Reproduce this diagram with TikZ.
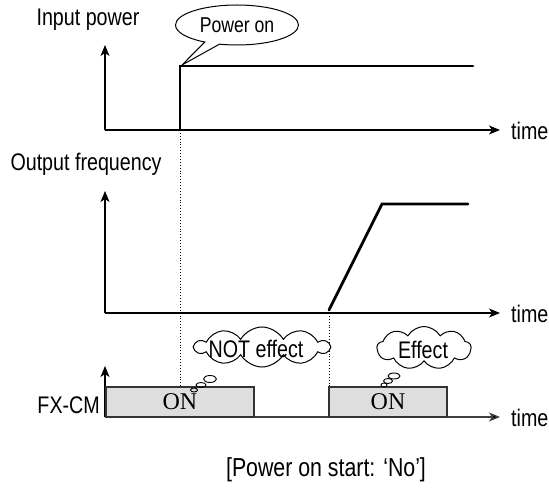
\documentclass[tikz,border=0pt]{standalone}
\usepackage{fontspec}
\setmainfont{Liberation Sans}[FakeStretch=0.82]
\newfontfamily\onfont{Liberation Serif}
\usetikzlibrary{arrows.meta,shapes.symbols,shapes.callouts,shapes.geometric}
\tikzset{
  axis/.style={line width=1.3pt,-{Stealth[length=11pt,width=9pt,inset=3pt]}},
  sig/.style={line width=2.8pt,line cap=round,line join=miter},
  lbl/.style={font=\fontsize{24}{26}\selectfont,inner sep=0pt},
  vdot/.style={line width=0.9pt,dotted},
  onbox/.style={draw=black!80,line width=1.2pt,fill=black!13},
  ontext/.style={font=\onfont\fontsize{24}{26}\selectfont,inner sep=0pt},
  thought/.style={cloud,draw,line width=1pt,cloud puffs=10,cloud puff arc=120,cloud ignores aspect,inner sep=0pt},
  bub/.style={ellipse,draw,line width=0.9pt,inner sep=0pt},
}
\begin{document}
\begin{tikzpicture}[x=1pt,y=-1pt]
\useasboundingbox (0,0) rectangle (549,489);
% panel 1
\coordinate (o1) at (105,130);
\coordinate (y1) at (105,45);
\coordinate (x1) at (500,130);
\draw[axis] (o1) -- (y1);
\draw[axis] (o1) -- (x1);
\node[lbl,anchor=west] (t1) at (511,131) {time};
\node[lbl] (inp) at (88,20) {Input power};
\coordinate (p0) at (180,130);
\coordinate (p1) at (180,66);
\coordinate (p2) at (473,66);
\draw[sig] (p0) -- (p1) -- (p2);
\node[ellipse callout,draw,line width=1pt,minimum width=123pt,minimum height=40pt,inner sep=0pt,
  callout absolute pointer={(182,65)},font=\fontsize{21.5}{23}\selectfont] (pon) at (237,25) {Power on};
% panel 2
\coordinate (o2) at (105,313);
\coordinate (y2) at (105,191);
\coordinate (x2) at (500,313);
\draw[axis] (o2) -- (y2);
\draw[axis] (o2) -- (x2);
\node[lbl,anchor=west] (t2) at (511,314) {time};
\node[lbl] (outf) at (86,164) {Output frequency};
\coordinate (r0) at (329,310);
\coordinate (r1) at (382,204);
\coordinate (r2) at (468,204);
\draw[sig] (r0) -- (r1) -- (r2);
% panel 3
\coordinate (o3) at (105,417);
\coordinate (y3) at (105,366);
\coordinate (x3) at (500,417);
\draw[axis,draw=black!75,-{Stealth[length=11pt,width=9pt,inset=3pt,fill=black]}] (o3) -- (x3);
\draw[axis] (o3) -- (y3);
\node[lbl,anchor=west] (t3) at (511,418) {time};
\node[lbl,anchor=east] (fx) at (100,405) {FX-CM};
\draw[onbox] (106,387) rectangle (254,417);
\node[ontext] (on1) at (180,402) {ON};
\draw[onbox] (329,387) rectangle (447,417);
\node[ontext] (on2) at (388,402) {ON};
% dotted
\coordinate (d1) at (180,387);
\coordinate (d2) at (329,387);
\draw[vdot] (p0) -- (d1);
\draw[vdot] (r0) -- (d2);
% clouds
\node[thought,fill=white,minimum width=134pt,minimum height=40pt] (c1) at (262,347) {};
\node[lbl] (c1t) at (256,349) {NOT effect};
\node[bub,minimum width=13pt,minimum height=7pt] (b11) at (210,379) {};
\node[bub,minimum width=10pt,minimum height=5pt] (b12) at (201,385) {};
\node[bub,minimum width=7pt,minimum height=4pt] (b13) at (194,390) {};
\node[thought,fill=white,minimum width=94pt,minimum height=43pt,cloud puffs=9] (c2) at (424,348) {};
\node[lbl] (c2t) at (423,350) {Effect};
\node[bub,minimum width=12pt,minimum height=6pt] (b21) at (394,376) {};
\node[bub,minimum width=9pt,minimum height=5pt] (b22) at (388,381) {};
\node[bub,minimum width=6pt,minimum height=4pt] (b23) at (384,385) {};
% caption
\node[font=\fontsize{26}{28}\selectfont,inner sep=0pt] (cap) at (326,470) {[Power on start: ‘No’]};
\end{tikzpicture}
\end{document}
